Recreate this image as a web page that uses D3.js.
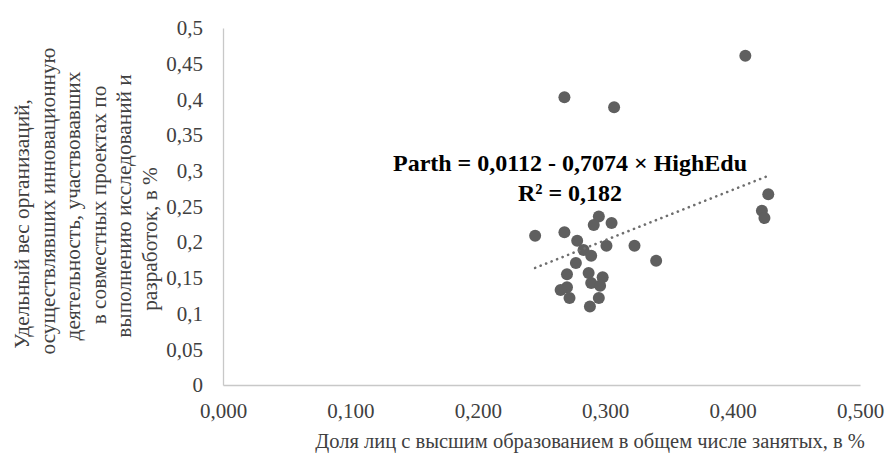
<!DOCTYPE html>
<html><head><meta charset="utf-8">
<script src="https://cdn.jsdelivr.net/npm/d3@7"></script>
<style>html,body{margin:0;padding:0;background:#fff;}</style></head>
<body><svg id="chart" width="887" height="454"></svg>
<script>
const highEdu = [0.410,0.268,0.307,0.428,0.423,0.425,0.245,0.268,0.295,0.291,0.305,0.278,0.283,0.289,0.301,0.323,0.340,0.277,0.270,0.287,0.298,0.289,0.270,0.265,0.296,0.272,0.295,0.288];
const parth   = [0.461,0.403,0.389,0.267,0.244,0.234,0.209,0.214,0.236,0.224,0.227,0.202,0.189,0.181,0.195,0.195,0.174,0.171,0.155,0.157,0.151,0.143,0.137,0.133,0.139,0.122,0.122,0.110];
const trendX = [0.245, 0.428];
const trendY = [0.164, 0.293];
const xTicks = [0,0.1,0.2,0.3,0.4,0.5];
const yTicks = [0,0.05,0.1,0.15,0.2,0.25,0.3,0.35,0.4,0.45,0.5];
const equationLines = ["Parth = 0,0112 - 0,7074 × HighEdu", "R² = 0,182"];
const xTitle = "Доля лиц с высшим образованием в общем числе занятых, в %";
const yTitleLines = ["Удельный вес организаций,","осуществлявших инновационную","деятельность, участвовавших","в совместных проектах по","выполнению исследований и","разработок, в %"];
const yTitleCenters = [224, 201, 206, 205, 206, 239];

const FONT = "Liberation Serif";
const svg = d3.select("#chart");
const x = d3.scaleLinear().domain([0,0.5]).range([223,860]);
const y = d3.scaleLinear().domain([0,0.5]).range([385,28]);
const fmtX = v => d3.format(".3f")(v).replace(".", ",");
const fmtY = v => String(+v.toFixed(2)).replace(".", ",");

const xAxis = svg.append("g").attr("transform","translate(0,385)")
  .call(d3.axisBottom(x).tickValues(xTicks).tickSize(0).tickPadding(18).tickFormat(fmtX));
const yAxis = svg.append("g").attr("transform","translate(223,0)")
  .call(d3.axisLeft(y).tickValues(yTicks).tickSize(0).tickPadding(20).tickFormat(fmtY));
[xAxis,yAxis].forEach(g=>{
  g.attr("font-family",null).attr("font-size",null);
  g.select(".domain").attr("stroke","#c8c8c8").attr("stroke-width",1.3);
  g.selectAll("text").attr("fill","#404040").attr("font-family",FONT).attr("font-size",21);
});

svg.append("g").selectAll("circle").data(highEdu).join("circle")
  .attr("cx",d=>x(d)).attr("cy",(d,i)=>y(parth[i])).attr("r",6)
  .attr("fill","#5f5f5f");

svg.append("line")
  .attr("x1",x(trendX[0])).attr("y1",y(trendY[0]))
  .attr("x2",x(trendX[1])).attr("y2",y(trendY[1]))
  .attr("stroke","#6e6e6e").attr("stroke-width",2.6)
  .attr("stroke-linecap","round").attr("stroke-dasharray","0.1 5.8");

svg.append("g").selectAll("text").data(equationLines).join("text")
  .attr("x",570).attr("y",(d,i)=>171+i*30).attr("text-anchor","middle")
  .attr("font-family",FONT).attr("font-size",24).attr("font-weight","bold").attr("fill","#000")
  .text(d=>d);

svg.append("text").attr("x",590).attr("y",448).attr("text-anchor","middle")
  .attr("font-family",FONT).attr("font-size",20.5).attr("fill","#404040").text(xTitle);

const yt = svg.append("text").attr("transform","rotate(-90)")
  .attr("text-anchor","middle").attr("font-family",FONT).attr("font-size",21.3).attr("fill","#404040");
yTitleLines.forEach((l,i)=>{
  yt.append("tspan").attr("x",-yTitleCenters[i]).attr("y",29+i*25.5).text(l);
});
</script></body></html>
